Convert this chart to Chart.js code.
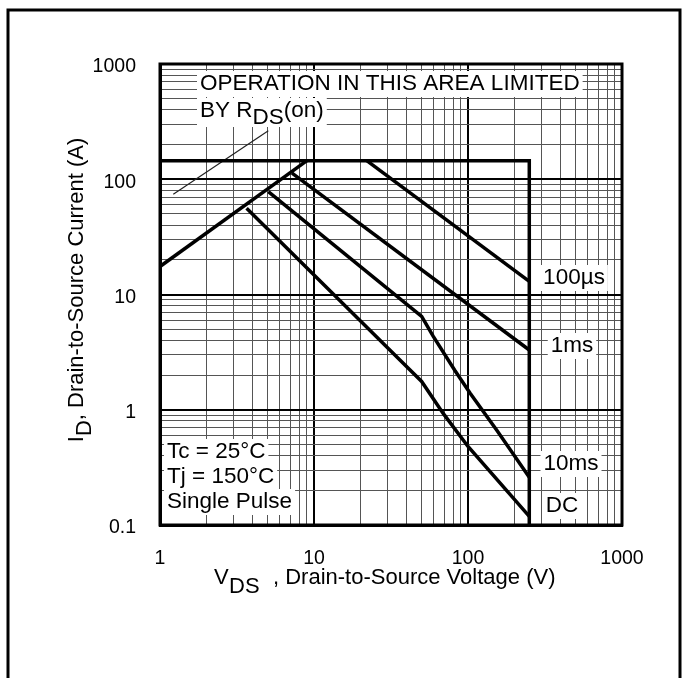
<!DOCTYPE html>
<html>
<head>
<meta charset="utf-8">
<script src="https://cdn.jsdelivr.net/npm/chart.js@4.4.0/dist/chart.umd.min.js"></script>
<style>
html, body { margin: 0; padding: 0; background: #fff; }
canvas { display: block; }
</style>
</head>
<body>
<canvas id="soa" width="683" height="678"></canvas>
<script>
// decade tick labels
var xTicks = [1, 10, 100, 1000];
var yTicks = [0.1, 1, 10, 100, 1000];

// SOA boundary: current limit then voltage limit
var limitVolts = [1, 250, 250];
var limitAmps = [145, 145, 0.1];
// RDS(on) limit
var rdsVolts = [1, 9];
var rdsAmps = [17.5, 145];
// pointer from the RDS(on) text to the line
var pointerVolts = [1.22, 5.05];
var pointerAmps = [74, 264];
// pulse curves
var us100Volts = [22, 250];
var us100Amps = [145, 13];
var ms1Volts = [7.2, 250];
var ms1Amps = [113, 3.3];
var ms10Volts = [5.05, 50, 59.5, 82, 103, 153, 250];
var ms10Amps = [78, 6.45, 4.33, 2.2, 1.4, 0.67, 0.26];
var dcVolts = [3.65, 36, 50, 69, 100, 250];
var dcAmps = [56, 2.72, 1.76, 0.93, 0.48, 0.119];

var FONT = "'Liberation Sans', Arial, Helvetica, sans-serif";

function pts(xs, ys) {
    var out = [];
    for (var i = 0; i < xs.length; i++) out.push({x: xs[i], y: ys[i]});
    return out;
}

function logGrid(decades) {
    var out = [];
    for (var i = 0; i < decades.length - 1; i++) {
        for (var k = 1; k < 10; k++) out.push(decades[i] * k);
    }
    out.push(decades[decades.length - 1]);
    return out;
}

function isDecade(v) {
    var l = Math.log10(v);
    return Math.abs(l - Math.round(l)) < 1e-9;
}

function curve(data, width, color) {
    return {
        data: data,
        showLine: true,
        borderColor: color || '#000',
        borderWidth: width,
        pointRadius: 0,
        tension: 0,
        fill: false
    };
}

function boxText(ctx, text, x, y, align) {
    var w = ctx.measureText(text).width;
    var left = align === 'center' ? x - w / 2 : x;
    ctx.fillStyle = '#fff';
    ctx.fillRect(left - 3, y - 13, w + 6, 26);
    ctx.fillStyle = '#000';
    ctx.textAlign = 'left';
    ctx.fillText(text, left, y);
    return left + w;
}

var labelsPlugin = {
    id: 'soaLabels',
    beforeDatasetsDraw: function(chart) {
        var ctx = chart.ctx;
        ctx.save();
        ctx.font = '22.5px ' + FONT;
        ctx.textBaseline = 'middle';

        boxText(ctx, 'OPERATION IN THIS AREA LIMITED', 200, 84, 'left');

        // BY R_DS(on)
        var parts = ['BY R', 'DS', '(on)'];
        var wAll = 0;
        for (var i = 0; i < parts.length; i++) wAll += ctx.measureText(parts[i]).width;
        ctx.fillStyle = '#fff';
        ctx.fillRect(197, 98, wAll + 6, 29);
        ctx.fillStyle = '#000';
        ctx.textAlign = 'left';
        var px = 200;
        ctx.fillText(parts[0], px, 111);
        px += ctx.measureText(parts[0]).width;
        ctx.fillText(parts[1], px, 118);
        px += ctx.measureText(parts[1]).width;
        ctx.fillText(parts[2], px, 111);

        boxText(ctx, 'Tc = 25°C', 167, 452, 'left');
        boxText(ctx, 'Tj = 150°C', 167, 477, 'left');
        boxText(ctx, 'Single Pulse', 167, 502, 'left');

        boxText(ctx, '100µs', 574, 278, 'center');
        boxText(ctx, '1ms', 572, 346, 'center');
        boxText(ctx, '10ms', 571, 464, 'center');
        boxText(ctx, 'DC', 562, 506, 'center');
        ctx.restore();
    },
    afterDraw: function(chart) {
        var ctx = chart.ctx;
        var a = chart.chartArea;
        ctx.save();
        // plot frame
        ctx.strokeStyle = '#000';
        ctx.lineWidth = 3;
        ctx.strokeRect(a.left, a.top, a.right - a.left, a.bottom - a.top);
        // outer figure frame
        ctx.strokeRect(8, 10, 672, 720);

        ctx.fillStyle = '#000';
        ctx.font = '22px ' + FONT;
        ctx.textBaseline = 'middle';
        ctx.textAlign = 'left';

        // x title: V_DS , Drain-to-Source Voltage (V)
        ctx.fillText('V', 214, 578);
        ctx.fillText('DS', 229, 587);
        ctx.fillText(', Drain-to-Source Voltage (V)', 273, 578);

        // y title, rotated
        var t1 = 'I', t2 = 'D', t3 = ', Drain-to-Source Current (A)';
        var total = ctx.measureText(t1).width + ctx.measureText(t2).width + ctx.measureText(t3).width;
        ctx.translate(77, 290 + total / 2);
        ctx.rotate(-Math.PI / 2);
        var tx = 0;
        ctx.fillText(t1, tx, 0);
        tx += ctx.measureText(t1).width;
        ctx.fillText(t2, tx, 8);
        tx += ctx.measureText(t2).width;
        ctx.fillText(t3, tx, 0);
        ctx.restore();
    }
};

function gridColor(c) { return c.tick && isDecade(c.tick.value) ? '#000' : '#555'; }
function gridWidth(c) { return c.tick && isDecade(c.tick.value) ? 2 : 1; }

new Chart(document.getElementById('soa').getContext('2d'), {
    type: 'scatter',
    data: {
        datasets: [
            curve(pts(limitVolts, limitAmps), 3.5),
            curve(pts(rdsVolts, rdsAmps), 3.5),
            curve(pts(pointerVolts, pointerAmps), 1.2, '#222'),
            curve(pts(us100Volts, us100Amps), 3.5),
            curve(pts(ms1Volts, ms1Amps), 3.5),
            curve(pts(ms10Volts, ms10Amps), 3.5),
            curve(pts(dcVolts, dcAmps), 3.5)
        ]
    },
    options: {
        responsive: false,
        animation: false,
        devicePixelRatio: 1,
        layout: { padding: { left: 0, top: 64, right: 61, bottom: 0 } },
        plugins: {
            legend: { display: false },
            tooltip: { enabled: false }
        },
        scales: {
            x: {
                type: 'logarithmic',
                min: 1,
                max: 1000,
                afterBuildTicks: function(s) {
                    s.ticks = logGrid(xTicks).map(function(v) { return {value: v}; });
                },
                afterFit: function(s) { s.height = 153; },
                grid: { color: gridColor, lineWidth: gridWidth, drawTicks: false },
                border: { display: true, color: '#000', width: 3 },
                ticks: {
                    autoSkip: false,
                    maxRotation: 0,
                    padding: 22,
                    color: '#000',
                    font: { family: FONT, size: 19.5 },
                    callback: function(v) { return xTicks.indexOf(v) >= 0 ? String(v) : ''; }
                }
            },
            y: {
                type: 'logarithmic',
                min: 0.1,
                max: 1000,
                afterBuildTicks: function(s) {
                    s.ticks = logGrid(yTicks).map(function(v) { return {value: v}; });
                },
                afterFit: function(s) { s.width = 160; },
                grid: { color: gridColor, lineWidth: gridWidth, drawTicks: false },
                border: { display: true, color: '#000', width: 3 },
                ticks: {
                    autoSkip: false,
                    padding: 24,
                    labelOffset: 3,
                    color: '#000',
                    font: { family: FONT, size: 19.5 },
                    callback: function(v) { return yTicks.indexOf(v) >= 0 ? String(v) : ''; }
                }
            }
        }
    },
    plugins: [labelsPlugin]
});
</script>
</body>
</html>
